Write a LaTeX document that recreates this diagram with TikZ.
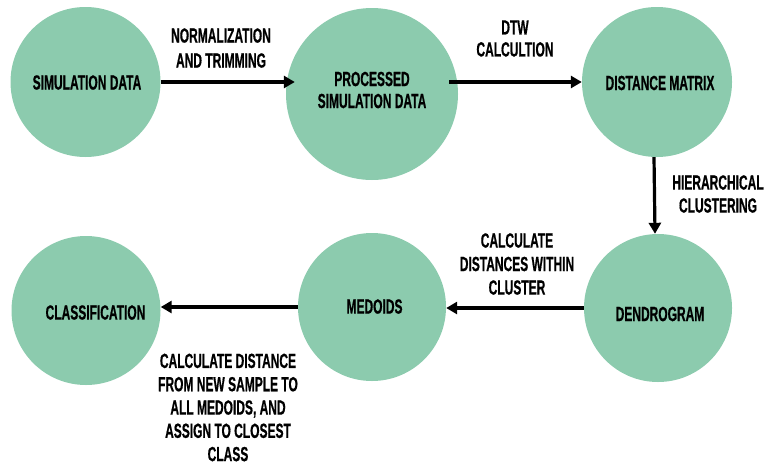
\documentclass[tikz,border=0pt]{standalone}
\usepackage{fontspec}
\newfontfamily\labfont[FakeStretch=0.585,BoldFeatures={FakeBold=0.6}]{Liberation Sans}
\usetikzlibrary{arrows.meta}
\definecolor{circfill}{HTML}{8CCBAE}
\begin{document}
\begin{tikzpicture}[x=1pt,y=-1pt,
  blob/.style={circle,fill=circfill,draw=none,inner sep=0pt,minimum size=#1},
  txt/.style={font=\labfont\bfseries\fontsize{20.5}{23}\selectfont,align=center,inner sep=0pt,text=black},
  arr/.style={line width=3.2pt,-{Triangle[length=11pt,width=12pt]}}]
\useasboundingbox (0,0) rectangle (767,466);
% circles
\node[blob=150pt] (c1) at (85.5,82) {};
\node[blob=172pt] (c2) at (372,94) {};
\node[blob=150pt] (c3) at (657,82) {};
\node[blob=148pt] (c4) at (658,308) {};
\node[blob=148pt] (c5) at (372,307) {};
\node[blob=149pt] (c6) at (86,310.5) {};
% circle texts
\node[txt] (t1) at (87,82.5) {SIMULATION DATA};
\node[txt,font=\labfont\bfseries\fontsize{20.5}{22}\selectfont] (t2) at (372,90) {PROCESSED\\SIMULATION DATA};
\node[txt] (t3) at (660,83) {DISTANCE MATRIX};
\node[txt] (t4) at (660,314) {DENDROGRAM};
\node[txt] (t5) at (374.5,306.5) {MEDOIDS};
\node[txt] (t6) at (95.5,312.5) {CLASSIFICATION};
% arrows
\draw[arr] (c1.east) -- ([xshift=9pt]c1.east -| c2.west);
\draw[arr] ([xshift=-9pt]c2.east |- c3.west) -- (c3.west);
\draw[arr] ([xshift=-3pt]c3.south) -- ([xshift=-3pt]c4.north);
\draw[arr] (c4.west) -- (c4.west -| c5.east);
\draw[arr] (c5.west) -- (c5.west -| c6.east);
% arrow labels
\node[txt,font=\labfont\bfseries\fontsize{20.5}{25}\selectfont] (l1) at (221,48) {NORMALIZATION\\AND TRIMMING};
\node[txt,font=\labfont\bfseries\fontsize{20.5}{22}\selectfont] (l2) at (515,38.5) {DTW\\CALCULTION};
\node[txt] (l3) at (718,194) {HIERARCHICAL\\CLUSTERING};
\node[txt,font=\labfont\bfseries\fontsize{20.5}{23.5}\selectfont] (l4) at (517,264) {CALCULATE\\DISTANCES WITHIN\\CLUSTER};
\node[txt,font=\labfont\bfseries\fontsize{20.5}{23.3}\selectfont] (l5) at (228,407.5) {CALCULATE DISTANCE\\FROM NEW SAMPLE TO\\ALL MEDOIDS, AND\\ASSIGN TO CLOSEST\\CLASS};
\end{tikzpicture}
\end{document}
